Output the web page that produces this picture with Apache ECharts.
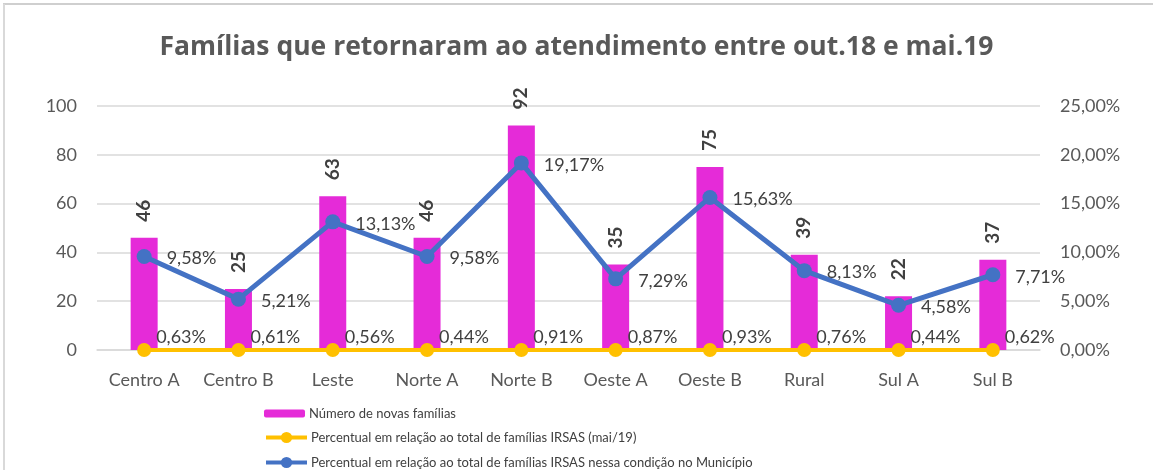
<!DOCTYPE html>
<html>
<head>
<meta charset="utf-8">
<script src="https://cdn.jsdelivr.net/npm/echarts@6/dist/echarts.min.js"></script>
<style>
  html, body { margin: 0; padding: 0; background: #fff; }
  #chart { width: 1153px; height: 470px; }
</style>
</head>
<body>
<div id="chart"></div>
<script>
// Regiões
const categories = ['Centro A', 'Centro B', 'Leste', 'Norte A', 'Norte B', 'Oeste A', 'Oeste B', 'Rural', 'Sul A', 'Sul B'];
// Número de novas famílias (eixo da esquerda)
const novasFamilias = [46, 25, 63, 46, 92, 35, 75, 39, 22, 37];
// Percentual em relação ao total de famílias IRSAS (mai/19), em fração — plotado no eixo da esquerda
const pctTotal = [0.0063, 0.0061, 0.0056, 0.0044, 0.0091, 0.0087, 0.0093, 0.0076, 0.0044, 0.0062];
// Percentual em relação ao total de famílias IRSAS nessa condição no Município, em fração — eixo da direita
const pctCondicao = [0.0958, 0.0521, 0.1313, 0.0958, 0.1917, 0.0729, 0.1563, 0.0813, 0.0458, 0.0771];

const leftTicks = { min: 0, max: 100, interval: 20 };
const rightTicks = { min: 0, max: 0.25, interval: 0.05 };

const FONT = 'Lato';
const GREY = '#595959';
const DARK = '#404040';
const fmtPct = v => (v * 100).toFixed(2).replace('.', ',') + '%';

const names = [
  'Número de novas famílias',
  'Percentual em relação ao total de famílias IRSAS (mai/19)',
  'Percentual em relação ao total de famílias IRSAS nessa condição no Município'
];

const chart = echarts.init(document.getElementById('chart'), null, { renderer: 'canvas' });

const legendBase = {
  left: 264, orient: 'horizontal', itemWidth: 41, itemHeight: 14, itemGap: 4,
  textStyle: { fontFamily: FONT, fontSize: 13, color: DARK, padding: [0, 0, 0, -1] },
  lineStyle: { width: 4 },
  padding: 0, selectedMode: false
};

chart.setOption({
  animation: false,
  textStyle: { fontFamily: FONT },
  title: {
    text: 'Famílias que retornaram ao atendimento entre out.18 e mai.19',
    left: 'center', top: 29,
    textStyle: { fontFamily: 'Open Sans', fontSize: 26.5, fontWeight: 'bold', color: GREY }
  },
  graphic: [
    { type: 'line', shape: { x1: 3, y1: 4, x2: 1153, y2: 4 }, style: { stroke: '#cfcfcf', lineWidth: 2 } },
    { type: 'line', shape: { x1: 4, y1: 4, x2: 4, y2: 470 }, style: { stroke: '#d9d9d9', lineWidth: 2 } }
  ],
  legend: [
    Object.assign({}, legendBase, { top: 407, itemHeight: 8, data: [names[0]] }),
    Object.assign({}, legendBase, { top: 431, data: [names[1]] }),
    Object.assign({}, legendBase, { top: 456, data: [names[2]] })
  ],
  grid: { left: 97, right: 113, top: 106, bottom: 120 },
  xAxis: {
    type: 'category', data: categories,
    axisLine: { show: true, lineStyle: { color: '#d9d9d9', width: 1.5 } },
    axisTick: { show: false },
    axisLabel: { fontFamily: FONT, fontSize: 18, color: GREY, margin: 21 }
  },
  yAxis: [
    {
      type: 'value', min: leftTicks.min, max: leftTicks.max, interval: leftTicks.interval,
      axisLine: { show: false }, axisTick: { show: false },
      splitLine: { lineStyle: { color: '#d9d9d9', width: 1.5 } },
      axisLabel: { fontFamily: FONT, fontSize: 18, color: GREY, margin: 20 }
    },
    {
      type: 'value', min: rightTicks.min, max: rightTicks.max, interval: rightTicks.interval,
      axisLine: { show: false }, axisTick: { show: false }, splitLine: { show: false },
      axisLabel: { fontFamily: FONT, fontSize: 18, color: GREY, margin: 20, formatter: v => fmtPct(v) }
    }
  ],
  series: [
    {
      name: names[0], type: 'bar', data: novasFamilias, yAxisIndex: 0,
      barWidth: 27,
      itemStyle: { color: '#E52BD8' },
      label: {
        show: true, position: 'top', rotate: 90, align: 'left', verticalAlign: 'middle',
        distance: 16, fontFamily: FONT, fontSize: 19, fontWeight: 'bold', color: DARK
      }
    },
    {
      name: names[1], type: 'line', data: pctTotal, yAxisIndex: 0,
      lineStyle: { color: '#FFC000', width: 4 },
      itemStyle: { color: '#FFC000' },
      symbol: 'circle', symbolSize: 14,
      label: {
        show: true, position: 'right', distance: 5, offset: [0, -13],
        fontFamily: FONT, fontSize: 18, color: DARK,
        formatter: p => fmtPct(p.value)
      },
      z: 3
    },
    {
      name: names[2], type: 'line', data: pctCondicao, yAxisIndex: 1,
      lineStyle: { color: '#4472C4', width: 5 },
      itemStyle: { color: '#4472C4' },
      symbol: 'circle', symbolSize: 15,
      label: {
        show: true, position: 'right', distance: 15, offset: [0, 2],
        fontFamily: FONT, fontSize: 18, color: DARK,
        formatter: p => fmtPct(p.value)
      },
      z: 4
    }
  ]
});
</script>
</body>
</html>
